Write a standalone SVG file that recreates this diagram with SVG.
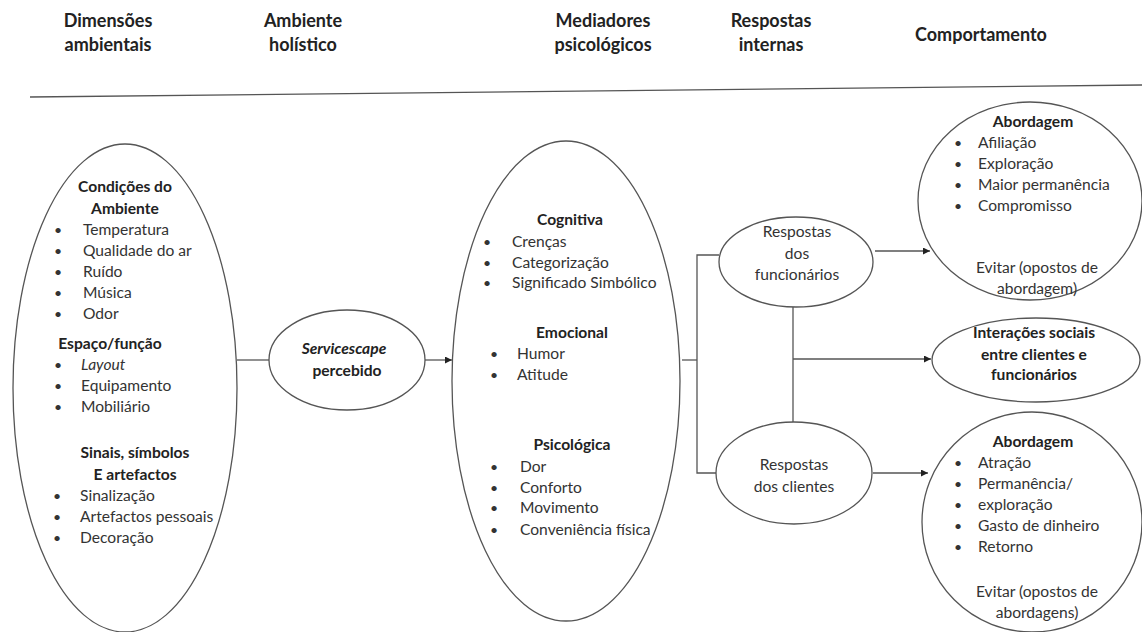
<svg xmlns="http://www.w3.org/2000/svg" width="1142" height="632" viewBox="0 0 1142 632">
<style>
text{font-family:Lato,"Open Sans","Liberation Sans",sans-serif;font-size:15.6px;fill:#333}
.h{font-size:18px;font-weight:bold;fill:#222;text-anchor:middle}
.b{font-weight:bold;fill:#222;text-anchor:middle}
.c{text-anchor:middle}
.bu{text-anchor:middle;font-size:14px}
.sh{fill:#fff;stroke:#555;stroke-width:1.3}
.ln{fill:none;stroke:#555;stroke-width:1.3}
</style>
<defs>
<marker id="arr" viewBox="0 0 10 10" refX="10" refY="5" markerWidth="7" markerHeight="7" markerUnits="userSpaceOnUse" orient="auto">
<path d="M0,0 L10,5 L0,10 z" fill="#222"/>
</marker>
</defs>
<rect width="1142" height="632" fill="#fff"/>

<g id="headers">
<text class="h" x="108" y="27">Dimensões</text>
<text class="h" x="108" y="51">ambientais</text>
<text class="h" x="303" y="27">Ambiente</text>
<text class="h" x="303" y="51">holístico</text>
<text class="h" x="603" y="27">Mediadores</text>
<text class="h" x="603" y="51">psicológicos</text>
<text class="h" x="771" y="27">Respostas</text>
<text class="h" x="771" y="51">internas</text>
<text class="h" x="981" y="41">Comportamento</text>
<line class="ln" x1="30" y1="97" x2="1142" y2="85"/>
</g>

<g id="connectors">
<line class="ln" x1="237" y1="360" x2="269" y2="360"/>
<line class="ln" x1="425" y1="360" x2="452" y2="360" marker-end="url(#arr)"/>
<polyline class="ln" points="682,360 697,360"/>
<polyline class="ln" points="719,255 697,255 697,473 716,473"/>
<line class="ln" x1="793" y1="307" x2="793" y2="422"/>
<line class="ln" x1="793" y1="359" x2="931" y2="359" marker-end="url(#arr)"/>
<line class="ln" x1="875" y1="251" x2="930" y2="251" marker-end="url(#arr)"/>
<line class="ln" x1="873" y1="473" x2="928" y2="473" marker-end="url(#arr)"/>
</g>

<g id="dimensoes">
<ellipse class="sh" cx="125" cy="388" rx="112" ry="244"/>
<text class="b" x="125" y="192">Condições do</text>
<text class="b" x="125" y="214">Ambiente</text>
<text class="bu" x="58" y="235">•</text><text x="83" y="235">Temperatura</text>
<text class="bu" x="58" y="256">•</text><text x="83" y="256">Qualidade do ar</text>
<text class="bu" x="58" y="277">•</text><text x="83" y="277">Ruído</text>
<text class="bu" x="58" y="298">•</text><text x="83" y="298">Música</text>
<text class="bu" x="58" y="319">•</text><text x="83" y="319">Odor</text>
<text class="b" x="110" y="349">Espaço/função</text>
<text class="bu" x="58" y="370">•</text><text x="81" y="370" font-style="italic">Layout</text>
<text class="bu" x="58" y="391">•</text><text x="81" y="391">Equipamento</text>
<text class="bu" x="58" y="412">•</text><text x="81" y="412">Mobiliário</text>
<text class="b" x="135" y="458">Sinais, símbolos</text>
<text class="b" x="135" y="480">E artefactos</text>
<text class="bu" x="57" y="501">•</text><text x="80" y="501">Sinalização</text>
<text class="bu" x="57" y="522">•</text><text x="80" y="522">Artefactos pessoais</text>
<text class="bu" x="57" y="543">•</text><text x="80" y="543">Decoração</text>
</g>

<g id="servicescape">
<ellipse class="sh" cx="347" cy="360" rx="78" ry="50"/>
<text class="b" x="344" y="354" font-style="italic" font-size="17">Servicescape</text>
<text class="b" x="347" y="376" font-size="17">percebido</text>
</g>

<g id="mediadores">
<ellipse class="sh" cx="566" cy="381" rx="114" ry="240"/>
<text class="b" x="570" y="225">Cognitiva</text>
<text class="bu" x="487" y="247">•</text><text x="512" y="247">Crenças</text>
<text class="bu" x="487" y="268">•</text><text x="512" y="268">Categorização</text>
<text class="bu" x="487" y="288">•</text><text x="512" y="288">Significado Simbólico</text>
<text class="b" x="572" y="338">Emocional</text>
<text class="bu" x="494" y="359">•</text><text x="517" y="359">Humor</text>
<text class="bu" x="494" y="380">•</text><text x="517" y="380">Atitude</text>
<text class="b" x="572" y="450">Psicológica</text>
<text class="bu" x="494" y="472">•</text><text x="520" y="472">Dor</text>
<text class="bu" x="494" y="493">•</text><text x="520" y="493">Conforto</text>
<text class="bu" x="494" y="513">•</text><text x="520" y="513">Movimento</text>
<text class="bu" x="494" y="535">•</text><text x="520" y="535">Conveniência física</text>
</g>

<g id="resp-funcionarios">
<ellipse class="sh" cx="796" cy="262" rx="77" ry="45"/>
<text class="c" x="797" y="237">Respostas</text>
<text class="c" x="797" y="259">dos</text>
<text class="c" x="797" y="280">funcionários</text>
</g>

<g id="resp-clientes">
<ellipse class="sh" cx="794" cy="473" rx="78" ry="51"/>
<text class="c" x="794" y="470">Respostas</text>
<text class="c" x="794" y="492">dos clientes</text>
</g>

<g id="comp-funcionarios">
<ellipse class="sh" cx="1030" cy="201" rx="112" ry="99"/>
<text class="b" x="1033" y="127">Abordagem</text>
<text class="bu" x="958" y="148">•</text><text x="978" y="148">Afiliação</text>
<text class="bu" x="958" y="169">•</text><text x="978" y="169">Exploração</text>
<text class="bu" x="958" y="190">•</text><text x="978" y="190">Maior permanência</text>
<text class="bu" x="958" y="211">•</text><text x="978" y="211">Compromisso</text>
<text class="c" x="1037" y="273">Evitar (opostos de</text>
<text class="c" x="1037" y="294">abordagem)</text>
</g>

<g id="interacoes">
<ellipse class="sh" cx="1036" cy="360" rx="104" ry="42"/>
<text class="b" x="1034" y="338">Interações sociais</text>
<text class="b" x="1034" y="360">entre clientes e</text>
<text class="b" x="1034" y="380">funcionários</text>
</g>

<g id="comp-clientes">
<ellipse class="sh" cx="1032" cy="522" rx="110" ry="110"/>
<text class="b" x="1033" y="447">Abordagem</text>
<text class="bu" x="958" y="468">•</text><text x="978" y="468">Atração</text>
<text class="bu" x="958" y="489">•</text><text x="978" y="489">Permanência/</text>
<text class="bu" x="958" y="510">•</text><text x="978" y="510">exploração</text>
<text class="bu" x="958" y="531">•</text><text x="978" y="531">Gasto de dinheiro</text>
<text class="bu" x="958" y="552">•</text><text x="978" y="552">Retorno</text>
<text class="c" x="1037" y="597">Evitar (opostos de</text>
<text class="c" x="1037" y="618">abordagens)</text>
</g>
</svg>
